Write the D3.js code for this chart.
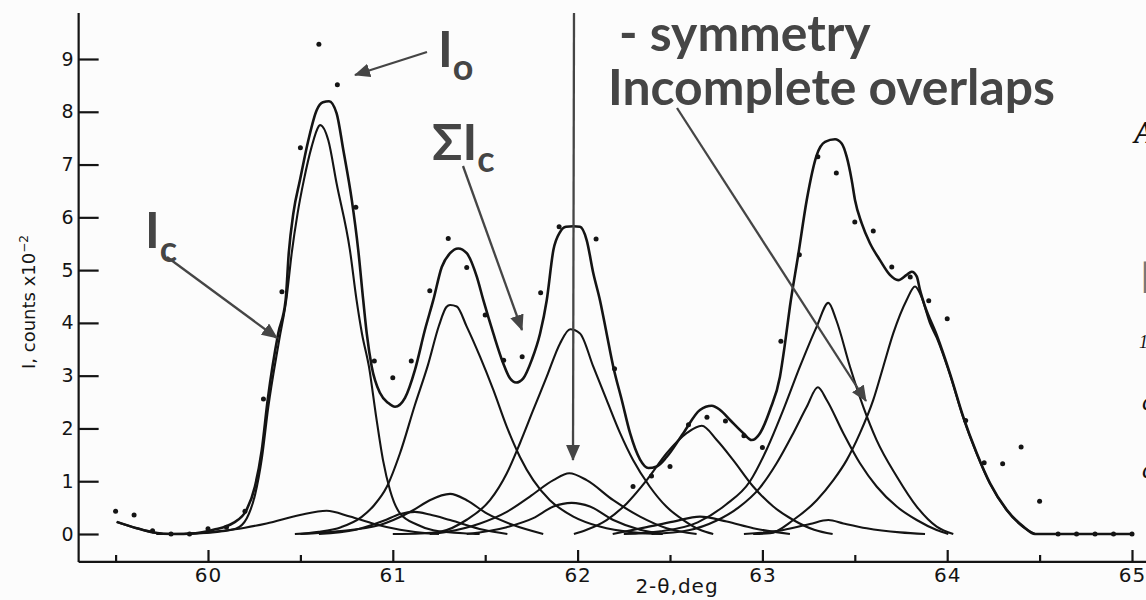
<!DOCTYPE html>
<html>
<head>
<meta charset="utf-8">
<script src="https://cdn.jsdelivr.net/npm/d3@7"></script>
<style>
html, body { margin: 0; padding: 0; background: #fcfcfc; overflow: hidden; }
svg { display: block; }
</style>
</head>
<body>
<script>
//Axis ticks
var xMajorTicks = [60, 61, 62, 63, 64, 65];
var xMinorTicks = [59.5, 60.5, 61.5, 62.5, 63.5, 64.5];
var yTicks = [0, 1, 2, 3, 4, 5, 6, 7, 8, 9];

//Observed intensities Io (2-theta, I x10^-2)
var observed = [
    [59.5, 0.43], [59.6, 0.36], [59.7, 0.06], [59.8, 0.0], [59.9, 0.0],
    [60.0, 0.10], [60.1, 0.13], [60.2, 0.43], [60.3, 2.56], [60.4, 4.59],
    [60.5, 7.32], [60.6, 9.28], [60.7, 8.51], [60.8, 6.19], [60.9, 3.28],
    [61.0, 2.96], [61.1, 3.28], [61.2, 4.61], [61.3, 5.60], [61.4, 5.05],
    [61.5, 4.15], [61.6, 3.29], [61.7, 3.36], [61.8, 4.57], [61.9, 5.82],
    [62.1, 5.59], [62.2, 3.13], [62.3, 0.90], [62.4, 1.10], [62.5, 1.28],
    [62.6, 2.07], [62.7, 2.21], [62.8, 2.14], [62.9, 1.86], [63.0, 1.64],
    [63.1, 3.65], [63.2, 5.29], [63.3, 7.15], [63.4, 6.84], [63.5, 5.91],
    [63.6, 5.74], [63.7, 5.06], [63.8, 4.87], [63.9, 4.42], [64.0, 4.08],
    [64.1, 2.15], [64.2, 1.35], [64.3, 1.33], [64.4, 1.65], [64.5, 0.62],
    [64.6, 0.0], [64.7, 0.0], [64.8, 0.0], [64.9, 0.0], [65.0, 0.0]
];

//Calculated sum profile (Sum Ic)
var sumCurve = [
    [59.506, 0.23], [59.614, 0.11], [59.704, 0.03], [59.812, 0.0], [59.92, 0.01],
    [60.029, 0.08], [60.137, 0.21], [60.209, 0.46], [60.254, 0.9], [60.291, 1.59],
    [60.323, 2.54], [60.38, 3.8], [60.42, 4.43], [60.437, 5.32], [60.462, 6.08],
    [60.498, 6.71], [60.543, 7.46], [60.588, 8.03], [60.622, 8.18], [60.655, 8.2],
    [60.696, 7.97], [60.732, 7.28], [60.778, 6.33], [60.813, 5.38], [60.84, 4.43],
    [60.859, 3.8], [60.886, 3.17], [60.931, 2.67], [60.976, 2.48], [61.012, 2.41],
    [61.066, 2.58], [61.12, 3.11], [61.174, 3.87], [61.219, 4.43], [61.265, 5.06],
    [61.31, 5.32], [61.354, 5.41], [61.4, 5.32], [61.454, 4.88], [61.49, 4.43],
    [61.544, 3.8], [61.598, 3.23], [61.634, 2.95], [61.667, 2.87], [61.706, 2.95],
    [61.752, 3.3], [61.797, 3.8], [61.833, 4.43], [61.869, 5.38], [61.905, 5.72],
    [61.937, 5.82], [61.977, 5.83], [62.013, 5.82], [62.049, 5.57], [62.085, 4.94],
    [62.121, 4.43], [62.157, 3.8], [62.193, 3.17], [62.239, 2.54], [62.284, 1.91],
    [62.338, 1.41], [62.383, 1.25], [62.428, 1.28], [62.482, 1.46], [62.572, 1.91],
    [62.662, 2.35], [62.726, 2.43], [62.771, 2.35], [62.825, 2.16], [62.897, 1.91],
    [62.942, 1.78], [62.987, 1.91], [63.041, 2.35], [63.095, 2.98], [63.12, 3.55],
    [63.149, 4.31], [63.194, 5.29], [63.24, 6.33], [63.294, 7.18], [63.339, 7.43],
    [63.393, 7.48], [63.429, 7.4], [63.456, 7.15], [63.483, 6.71], [63.501, 6.33],
    [63.537, 5.89], [63.582, 5.51], [63.636, 5.19], [63.69, 4.91], [63.735, 4.81],
    [63.781, 4.91], [63.808, 4.97], [63.835, 4.88], [63.853, 4.62], [63.88, 4.31],
    [63.943, 3.77], [64.015, 3.04], [64.087, 2.22], [64.16, 1.53], [64.232, 0.96],
    [64.322, 0.46], [64.412, 0.14], [64.475, 0.0], [65.005, 0.0]
];

//Component profiles (Ic)
var peak606 = [
    [59.72, 0], [59.9, 0.01], [60.05, 0.04], [60.15, 0.1], [60.21, 0.3],
    [60.255, 0.75], [60.292, 1.45], [60.326, 2.4], [60.384, 3.65], [60.426, 4.5],
    [60.453, 5.32], [60.485, 6.08], [60.519, 6.71], [60.561, 7.34], [60.598, 7.72],
    [60.606, 7.75], [60.651, 7.46], [60.696, 6.64], [60.768, 5.38], [60.804, 4.43],
    [60.833, 3.8], [60.871, 3.17], [60.91, 2.22], [60.947, 1.4], [60.985, 0.83],
    [61.039, 0.39], [61.13, 0.18], [61.219, 0.07], [61.4, 0.01], [61.47, 0]
];
var peak064 = [
    [59.506, 0.23], [59.614, 0.11], [59.704, 0.03], [59.812, 0.0], [59.93, 0.01],
    [60.05, 0.05], [60.2, 0.12], [60.317, 0.2], [60.498, 0.36], [60.642, 0.44],
    [60.768, 0.33], [60.9, 0.19], [61.039, 0.08], [61.2, 0.01], [61.25, 0.0]
];
var peak131 = [
    [60.47, 0], [60.6, 0.04], [60.72, 0.13], [60.83, 0.32], [60.9, 0.55],
    [60.967, 0.89], [61.039, 1.53], [61.12, 2.45], [61.19, 3.2], [61.25, 3.95],
    [61.29, 4.3], [61.31, 4.34], [61.346, 4.31], [61.4, 3.93], [61.472, 3.36],
    [61.544, 2.73], [61.617, 2.03], [61.688, 1.46], [61.76, 1.02], [61.85, 0.64],
    [61.977, 0.33], [62.12, 0.14], [62.3, 0.03], [62.46, 0]
];
var peak131s = [
    [60.5, 0], [60.7, 0.05], [60.93, 0.17], [61.003, 0.265], [61.11, 0.45],
    [61.2, 0.64], [61.31, 0.76], [61.4, 0.64], [61.508, 0.39], [61.652, 0.17],
    [61.814, 0]
];
var peak112 = [
    [60.6, 0], [60.8, 0.08], [60.95, 0.25], [61.04, 0.38], [61.12, 0.42],
    [61.2, 0.37], [61.31, 0.265], [61.49, 0.08], [61.62, 0]
];
var peak196 = [
    [61.0, 0], [61.15, 0.01], [61.255, 0.04], [61.4, 0.27], [61.526, 0.64],
    [61.617, 1.15], [61.688, 1.72], [61.76, 2.35], [61.833, 2.98], [61.905, 3.61],
    [61.96, 3.88], [62.013, 3.8], [62.085, 3.17], [62.157, 2.54], [62.23, 1.91],
    [62.3, 1.4], [62.39, 0.9], [62.48, 0.52], [62.572, 0.265], [62.662, 0.08],
    [62.734, 0]
];
var peak196m = [
    [61.2, 0], [61.29, 0.04], [61.472, 0.2], [61.617, 0.42], [61.742, 0.71],
    [61.869, 1.02], [61.955, 1.15], [62.049, 1.02], [62.193, 0.64], [62.338, 0.33],
    [62.482, 0.11], [62.644, 0]
];
var peak197s = [
    [61.4, 0], [61.617, 0.13], [61.76, 0.3], [61.869, 0.52], [61.968, 0.59],
    [62.067, 0.52], [62.193, 0.265], [62.338, 0.08], [62.46, 0]
];
var peak267 = [
    [61.98, 0], [62.049, 0.08], [62.157, 0.265], [62.266, 0.58], [62.374, 1.02],
    [62.482, 1.53], [62.59, 1.91], [62.672, 2.05], [62.753, 1.78], [62.842, 1.4],
    [62.95, 0.9], [63.059, 0.52], [63.167, 0.265], [63.28, 0.08], [63.38, 0]
];
var peak266s = [
    [62.19, 0], [62.374, 0.13], [62.518, 0.235], [62.662, 0.33], [62.807, 0.235],
    [62.95, 0.11], [63.149, 0]
];
var peak330 = [
    [62.4, 0], [62.6, 0.07], [62.75, 0.25], [62.87, 0.5], [62.987, 0.88],
    [63.077, 1.34], [63.167, 1.91], [63.24, 2.41], [63.3, 2.78], [63.348, 2.54],
    [63.438, 1.91], [63.528, 1.34], [63.618, 0.9], [63.727, 0.52], [63.835, 0.265],
    [63.943, 0.076], [64.006, 0]
];
var peak336 = [
    [62.25, 0], [62.45, 0.05], [62.65, 0.22], [62.8, 0.55], [62.933, 1.0],
    [63.023, 1.6], [63.113, 2.35], [63.203, 3.17], [63.294, 3.93], [63.357, 4.38],
    [63.4, 4.05], [63.474, 3.17], [63.546, 2.41], [63.618, 1.78], [63.727, 1.09],
    [63.835, 0.52], [63.943, 0.14], [64.033, 0]
];
var peak335s = [
    [62.9, 0], [63.113, 0.076], [63.257, 0.19], [63.357, 0.265], [63.438, 0.2],
    [63.564, 0.108], [63.745, 0.03], [63.88, 0]
];
var peak383 = [
    [62.95, 0], [63.041, 0.013], [63.167, 0.265], [63.294, 0.64], [63.384, 1.02],
    [63.456, 1.4], [63.528, 1.91], [63.6, 2.54], [63.654, 3.17], [63.708, 3.8],
    [63.78, 4.43], [63.826, 4.69], [63.86, 4.5], [63.907, 3.99], [63.943, 3.72],
    [64.015, 3.02], [64.087, 2.2], [64.16, 1.52], [64.232, 0.95], [64.322, 0.45],
    [64.412, 0.13], [64.475, 0]
];

var components = [peak606, peak064, peak131, peak131s, peak112, peak196, peak196m,
    peak197s, peak267, peak266s, peak330, peak336, peak335s, peak383];

var width = 1146;
var height = 600;
var ink = "#141414";
var grey = "#454545";
var annFont = "Lato, 'Noto Sans', 'DejaVu Sans', sans-serif";

var svg = d3.select("body").append("svg")
    .attr("width", width)
    .attr("height", height);

var xScale = d3.scaleLinear().domain([60, 65]).range([208, 1132]);
var yScale = d3.scaleLinear().domain([0, 9]).range([534, 59]);

//axis extents (x axis runs off the right edge)
var xLeft = 59.3, xRight = 65.1, yBottom = -0.53, yTop = 9.87;

svg.append("line")
    .attr("x1", xScale(xLeft)).attr("x2", xScale(xLeft))
    .attr("y1", yScale(yTop)).attr("y2", yScale(yBottom))
    .attr("stroke", ink).attr("stroke-width", 2.2);
svg.append("line")
    .attr("x1", xScale(xLeft)).attr("x2", xScale(xRight))
    .attr("y1", yScale(yBottom)).attr("y2", yScale(yBottom))
    .attr("stroke", ink).attr("stroke-width", 2.2);

//y axis: inner ticks pointing right
var yAxis = d3.axisLeft(yScale).tickValues(yTicks).tickSizeInner(-20).tickSizeOuter(0).tickPadding(5)
    .tickFormat(d3.format("d"));
var yAxisGroup = svg.append("g")
    .attr("transform", "translate(" + xScale(xLeft) + ",0)")
    .call(yAxis);

//x axis: major and minor ticks pointing up
var xAxis = d3.axisBottom(xScale).tickValues(xMajorTicks).tickSizeInner(-12).tickSizeOuter(0).tickPadding(6)
    .tickFormat(d3.format("d"));
var xAxisGroup = svg.append("g")
    .attr("transform", "translate(0," + yScale(yBottom) + ")")
    .call(xAxis);
var xMinorAxis = d3.axisBottom(xScale).tickValues(xMinorTicks).tickSizeInner(-7).tickSizeOuter(0).tickFormat("");
var xMinorGroup = svg.append("g")
    .attr("transform", "translate(0," + yScale(yBottom) + ")")
    .call(xMinorAxis);

svg.selectAll(".domain").remove();
svg.selectAll(".tick line").attr("stroke", ink).attr("stroke-width", 2.2);
svg.selectAll(".tick text")
    .attr("fill", ink)
    .attr("font-family", "'DejaVu Sans', sans-serif");
yAxisGroup.selectAll(".tick text").attr("font-size", 19);
xAxisGroup.selectAll(".tick text").attr("font-size", 20).attr("letter-spacing", 1);

//axis titles
svg.append("text")
    .attr("x", 677).attr("y", 593)
    .attr("text-anchor", "middle")
    .attr("font-family", "'DejaVu Sans', sans-serif")
    .attr("font-size", 20)
    .attr("letter-spacing", 1)
    .attr("fill", ink)
    .text("2-\u03B8,deg");

var yTitle = svg.append("text")
    .attr("transform", "translate(35,302) rotate(-90)")
    .attr("text-anchor", "middle")
    .attr("font-family", "'DejaVu Sans', sans-serif")
    .attr("font-size", 18)
    .attr("fill", ink);
yTitle.append("tspan").text("I, counts x10");
yTitle.append("tspan").attr("dy", -7).attr("font-size", 12).text("\u22122");

//curves
var line = d3.line()
    .x(function(d) { return xScale(d[0]); })
    .y(function(d) { return yScale(d[1]); })
    .curve(d3.curveMonotoneX);

svg.append("g").attr("id", "components")
    .selectAll("path")
    .data(components)
    .enter()
    .append("path")
    .attr("d", line)
    .attr("fill", "none")
    .attr("stroke", ink)
    .attr("stroke-width", 2.1);

svg.append("path")
    .datum(sumCurve)
    .attr("d", line)
    .attr("fill", "none")
    .attr("stroke", ink)
    .attr("stroke-width", 2.6);

svg.append("g").attr("id", "points")
    .selectAll("circle")
    .data(observed)
    .enter()
    .append("circle")
    .attr("cx", function(d) { return xScale(d[0]); })
    .attr("cy", function(d) { return yScale(d[1]); })
    .attr("r", 2.5)
    .attr("fill", ink);

//annotations
svg.append("defs").append("marker")
    .attr("id", "head")
    .attr("viewBox", "0 0 16 14")
    .attr("refX", 15).attr("refY", 7)
    .attr("markerWidth", 16).attr("markerHeight", 14)
    .attr("markerUnits", "userSpaceOnUse")
    .attr("orient", "auto")
    .append("path")
    .attr("d", "M0,0 L16,7 L0,14 Z")
    .attr("fill", grey);

var arrows = [
    [427, 52, 355, 75],
    [167, 257, 277, 338],
    [463, 166, 522, 330],
    [574, 13, 573, 460],
    [677, 108, 866, 401]
];
svg.append("g").selectAll("line")
    .data(arrows)
    .enter()
    .append("line")
    .attr("x1", function(d) { return d[0]; })
    .attr("y1", function(d) { return d[1]; })
    .attr("x2", function(d) { return d[2]; })
    .attr("y2", function(d) { return d[3]; })
    .attr("stroke", grey)
    .attr("stroke-width", 2.3)
    .attr("marker-end", "url(#head)");

//fit the slide font to the width of the long caption
var probe = svg.append("text")
    .attr("font-family", annFont).attr("font-weight", 700).attr("font-size", 50)
    .text("Incomplete overlaps");
var annSize = 50 * 447 / probe.node().getComputedTextLength();
probe.remove();

function caption(x, y, main, sub, subDy) {
    var t = svg.append("text")
        .attr("x", x).attr("y", y)
        .attr("font-family", annFont)
        .attr("font-weight", 700)
        .attr("font-size", annSize)
        .attr("fill", grey);
    t.append("tspan").text(main);
    if (sub) {
        t.append("tspan").attr("dy", subDy).attr("font-size", annSize * 0.72).text(sub);
    }
    return t;
}
caption(608, 105, "Incomplete overlaps");
caption(619, 51, "- symmetry");
caption(438, 67, "I", "o", 13);
caption(432, 160, "\u03A3I", "c", 12);
caption(145, 248, "I", "c", 14);

//fragments of slide text cut off at the right edge
var frag = svg.append("g")
    .attr("font-family", "'Liberation Serif', 'DejaVu Serif', serif")
    .attr("fill", "#111");
frag.append("text").attr("x", 1134).attr("y", 143).attr("font-size", 32)
    .attr("font-style", "italic").attr("font-weight", 700).text("A");
frag.append("text").attr("x", 1141).attr("y", 288).attr("font-size", 38).attr("fill", "#777").text("[");
frag.append("text").attr("x", 1139).attr("y", 348).attr("font-size", 18).attr("font-style", "italic").text("1");
frag.append("text").attr("x", 1142).attr("y", 410).attr("font-size", 26).attr("font-style", "italic").text("c");
frag.append("text").attr("x", 1142).attr("y", 478).attr("font-size", 26).attr("font-style", "italic").text("c");
</script>
</body>
</html>
